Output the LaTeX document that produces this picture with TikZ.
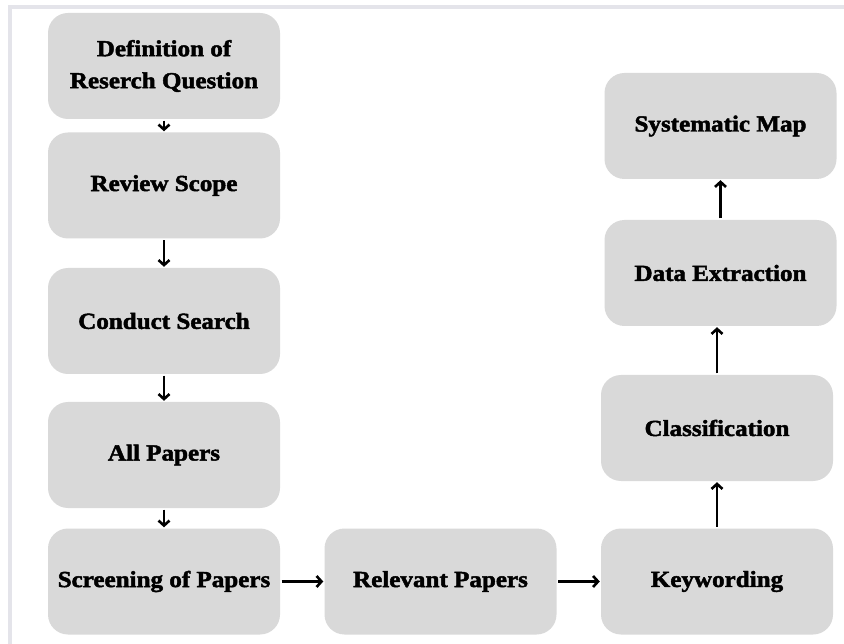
\documentclass[tikz,border=0pt]{standalone}
\usepackage{fontspec}
\newfontfamily\boxfont{Liberation Serif Bold}[FakeBold=2, FakeStretch=1.09]
\usetikzlibrary{arrows.meta}
\definecolor{boxgray}{RGB}{217,217,217}
\definecolor{framegray}{RGB}{228,228,234}
\begin{document}
\begin{tikzpicture}[x=1pt,y=-1pt,
  stepbox/.style={rectangle, rounded corners=20pt, fill=boxgray, draw=none,
    minimum width=232pt, minimum height=106pt, inner sep=0pt, align=center,
    font=\boxfont\fontsize{23}{32}\selectfont},
  arr/.style={line width=2.6pt, -{Straight Barb[length=5pt,width=11pt]}, shorten >=1pt, shorten <=1.5pt}]
\useasboundingbox (0,0) rectangle (844,644);
\fill[white] (0,0) rectangle (844,644);
\draw[framegray, line width=3.5pt] (10,644) -- (10,7) -- (844,7);
\node[stepbox] (def) at (164,66) {Definition of\\Reserch Question};
\node[stepbox] (scope) at (164,185.5) {Review Scope};
\node[stepbox] (search) at (164,321) {Conduct Search};
\node[stepbox] (all) at (164,455) {All Papers};
\node[stepbox] (screen) at (164,581.5) {Screening of Papers};
\node[stepbox] (rel) at (440.5,581.5) {Relevant Papers};
\node[stepbox] (key) at (717,581.5) {Keywording};
\node[stepbox] (cls) at (717,428) {Classification};
\node[stepbox] (data) at (720.5,273) {Data Extraction};
\node[stepbox] (map) at (720.5,126) {Systematic Map};
\draw[arr] (def) -- (scope);
\draw[arr] (scope) -- (search);
\draw[arr] (search) -- (all);
\draw[arr] (all) -- (screen);
\draw[arr] (screen) -- (rel);
\draw[arr] (rel) -- (key);
\draw[arr] (key) -- (cls);
\draw[arr] (cls.north) -- (cls.north |- data.south);
\draw[arr] (data.north) -- (data.north |- map.south);
\end{tikzpicture}
\end{document}
